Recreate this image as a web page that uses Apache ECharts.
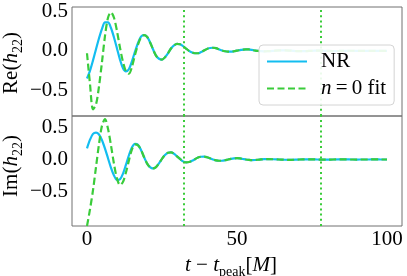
<!DOCTYPE html>
<html><head><meta charset="utf-8">
<script src="https://cdn.jsdelivr.net/npm/echarts@6/dist/echarts.min.js"></script>
<style>html,body{margin:0;padding:0;background:#fff}#c{width:407px;height:276px}</style>
</head><body><div id="c"></div>
<script>
// time after peak (M)
const t = [0,1,2,3,4,5,6,7,8,9,10,11,12,13,14,15,16,17,18,19,20,21,22,23,24,25,26,27,28,29,30,31,32,33,34,35,36,37,38,39,40,41,42,43,44,45,46,47,48,49,50,51,52,53,54,55,56,57,58,59,60,62,64,66,68,70,72,74,76,78,80,82,84,86,88,90,92,94,96,98,100];
// Re(h22)
const reNR = [-0.35,-0.25,-0.12,0.02,0.16,0.28,0.36,0.36,0.29,0.17,0.03,-0.11,-0.22,-0.26,-0.23,-0.13,-0.01,0.10,0.18,0.20,0.18,0.11,0.02,-0.06,-0.10,-0.11,-0.08,-0.03,0.03,0.07,0.09,0.085,0.06,0.03,0.0,-0.02,-0.03,-0.03,-0.015,0.005,0.025,0.037,0.04,0.035,0.02,0.005,-0.005,-0.01,-0.01,-0.005,0.003,0.01,0.017,0.02,0.018,0.012,0.005,-0.001,-0.004,-0.005,-0.004,0.0,0.006,0.007,0.003,-0.003,-0.004,-0.001,0.003,0.003,0.0,-0.002,-0.001,0.001,0.002,0.001,-0.001,-0.001,0.0,0.001,0.0];
const reFit = [-0.03,-0.42,-0.74,-0.68,-0.45,-0.14,0.19,0.42,0.49,0.42,0.25,0.04,-0.14,-0.26,-0.29,-0.20,-0.05,0.08,0.17,0.20,0.18,0.11,0.02,-0.06,-0.10,-0.11,-0.08,-0.03,0.03,0.07,0.09,0.085,0.06,0.03,0.0,-0.02,-0.03,-0.03,-0.015,0.005,0.025,0.037,0.04,0.035,0.02,0.005,-0.005,-0.01,-0.01,-0.005,0.003,0.01,0.017,0.02,0.018,0.012,0.005,-0.001,-0.004,-0.005,-0.004,0.0,0.006,0.007,0.003,-0.003,-0.004,-0.001,0.003,0.003,0.0,-0.002,-0.001,0.001,0.002,0.001,-0.001,-0.001,0.0,0.001,0.0];
// Im(h22)
const imNR = [0.175,0.31,0.40,0.42,0.39,0.30,0.17,0.02,-0.13,-0.25,-0.32,-0.31,-0.22,-0.08,0.07,0.19,0.245,0.23,0.15,0.04,-0.06,-0.12,-0.14,-0.12,-0.06,0.01,0.07,0.105,0.11,0.09,0.05,0.01,-0.03,-0.045,-0.04,-0.02,0.005,0.03,0.043,0.045,0.035,0.018,0.0,-0.013,-0.02,-0.02,-0.012,0.0,0.01,0.017,0.02,0.016,0.008,0.0,-0.006,-0.009,-0.008,-0.004,0.001,0.005,0.006,0.004,0.0,-0.004,-0.005,-0.002,0.002,0.003,0.001,-0.002,-0.002,0.0,0.001,0.001,0.0,-0.001,0.0,0.0,0.001,0.0,0.0];
const imFit = [-1.04,-0.78,-0.48,-0.12,0.24,0.53,0.63,0.48,0.22,-0.07,-0.30,-0.40,-0.35,-0.20,-0.01,0.16,0.235,0.22,0.15,0.04,-0.06,-0.12,-0.14,-0.12,-0.06,0.01,0.07,0.105,0.11,0.09,0.05,0.01,-0.03,-0.045,-0.04,-0.02,0.005,0.03,0.043,0.045,0.035,0.018,0.0,-0.013,-0.02,-0.02,-0.012,0.0,0.01,0.017,0.02,0.016,0.008,0.0,-0.006,-0.009,-0.008,-0.004,0.001,0.005,0.006,0.004,0.0,-0.004,-0.005,-0.002,0.002,0.003,0.001,-0.002,-0.002,0.0,0.001,0.001,0.0,-0.001,0.0,0.0,0.001,0.0,0.0];
// vertical markers (M)
const markTimes = [32.2, 77.8];
const xTicks = [0, 50, 100];
const yTicks = [-0.5, 0.0, 0.5];
const seriesNames = ['NR', 'n=0 fit'];

const FONT = 'Liberation Serif';
const CYAN = '#13bdf0';
const GREEN = '#3acc3a';
const FRAME = '#707070';
const pair = (xs, ys) => xs.map((x, i) => [x, ys[i]]);
const fmtY = v => '{s|' + (v < 0 ? '\u2212' : '') + Math.abs(v).toFixed(1) + '}';
const fmtX = v => '{s|' + v + '}';
const tickRich = {s: {fontFamily: FONT, fontSize: 21, color: '#000'}};
const rich = {
  r: {fontFamily: FONT, fontSize: 21, lineHeight: 28, color: '#000'},
  i: {fontFamily: FONT, fontSize: 21, lineHeight: 28, fontStyle: 'italic', color: '#000'},
  sub: {fontFamily: FONT, fontSize: 14, lineHeight: 14, verticalAlign: 'bottom', color: '#000'}
};
const markLine = {
  silent: true, symbol: 'none', label: {show: false},
  lineStyle: {color: GREEN, type: [2, 3.2], width: 2},
  data: markTimes.map(v => ({xAxis: v}))
};
const yAxisCommon = {
  type: 'value', axisLine: {show: false}, axisTick: {show: false}, splitLine: {show: false},
  axisLabel: {customValues: yTicks, formatter: fmtY, rich: tickRich, margin: 4}
};
const chart = echarts.init(document.getElementById('c'), null, {renderer: 'canvas'});
chart.setOption({
  animation: false,
  backgroundColor: '#fff',
  textStyle: {fontFamily: FONT},
  grid: [
    {left: 72, top: 7, width: 330, height: 109, show: true, borderColor: FRAME, borderWidth: 1, backgroundColor: 'transparent'},
    {left: 72, top: 116, width: 330, height: 110, show: true, borderColor: FRAME, borderWidth: 1, backgroundColor: 'transparent'}
  ],
  xAxis: [
    {gridIndex: 0, type: 'value', min: -5, max: 105, axisLine: {show: false}, axisTick: {show: false}, splitLine: {show: false}, axisLabel: {show: false}},
    {gridIndex: 1, type: 'value', min: -5, max: 105, axisLine: {show: false}, axisTick: {show: false}, splitLine: {show: false},
     axisLabel: {customValues: xTicks, formatter: fmtX, rich: tickRich, margin: 3}}
  ],
  yAxis: [
    Object.assign({}, yAxisCommon, {gridIndex: 0, min: -0.825, max: 0.556}),
    Object.assign({}, yAxisCommon, {gridIndex: 1, min: -1.04, max: 0.68})
  ],
  graphic: [
    {type: 'text', x: 11.5, y: 63, rotation: Math.PI / 2, silent: true,
     style: {text: '{r|Re(}{i|h}{sub|22}{r|)}', rich: rich, align: 'center', verticalAlign: 'middle'}},
    {type: 'text', x: 11.5, y: 166, rotation: Math.PI / 2, silent: true,
     style: {text: '{r|Im(}{i|h}{sub|22}{r|)}', rich: rich, align: 'center', verticalAlign: 'middle'}},
    {type: 'text', x: 231, y: 265, silent: true,
     style: {text: '{i|t}{r| \u2212 }{i|t}{sub|peak}{r|[}{i|M}{r|]}', rich: rich, align: 'center', verticalAlign: 'middle'}}
  ],
  legend: {
    orient: 'vertical', left: 259, top: 45, itemWidth: 40, itemHeight: 14, itemGap: 6,
    padding: [6, 8, 6, 7], backgroundColor: 'rgba(255,255,255,0.9)', borderColor: '#d4d4d4', borderWidth: 1, borderRadius: 4,
    data: seriesNames,
    itemStyle: {opacity: 0},
    formatter: n => n === 'NR' ? '{g|}{r|NR}' : '{g|}{i|n}{r|\u2009=\u20090 fit}',
    textStyle: {fontFamily: FONT, fontSize: 21, color: '#000',
      rich: {g: {width: 9, height: 1},
             r: {fontFamily: FONT, fontSize: 21, lineHeight: 22, color: '#000'},
             i: {fontFamily: FONT, fontSize: 21, lineHeight: 22, fontStyle: 'italic', color: '#000'}}},
    z: 10
  },
  series: [
    {name: seriesNames[0], type: 'line', xAxisIndex: 0, yAxisIndex: 0, data: pair(t, reNR), symbol: 'none', smooth: 0.3,
     lineStyle: {color: CYAN, width: 2.2}, itemStyle: {color: CYAN}, z: 2},
    {name: seriesNames[1], type: 'line', xAxisIndex: 0, yAxisIndex: 0, data: pair(t, reFit), symbol: 'none', smooth: 0.3,
     lineStyle: {color: GREEN, width: 2.2, type: [7, 3.5]}, itemStyle: {color: GREEN}, z: 3, markLine: markLine},
    {name: seriesNames[0], type: 'line', xAxisIndex: 1, yAxisIndex: 1, data: pair(t, imNR), symbol: 'none', smooth: 0.3,
     lineStyle: {color: CYAN, width: 2.2}, itemStyle: {color: CYAN}, z: 2},
    {name: seriesNames[1], type: 'line', xAxisIndex: 1, yAxisIndex: 1, data: pair(t, imFit), symbol: 'none', smooth: 0.3,
     lineStyle: {color: GREEN, width: 2.2, type: [7, 3.5]}, itemStyle: {color: GREEN}, z: 3, markLine: markLine}
  ]
});
</script></body></html>
